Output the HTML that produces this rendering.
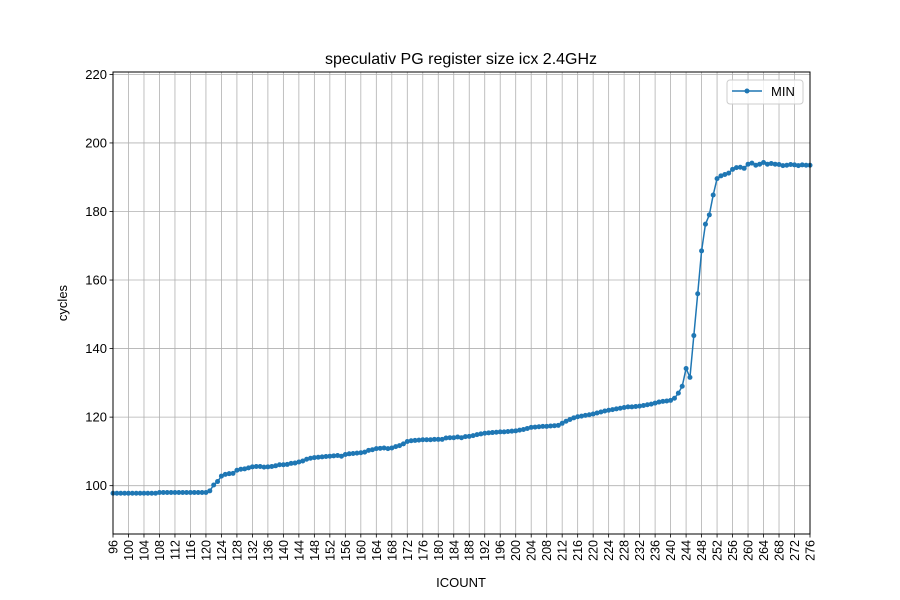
<!DOCTYPE html>
<html><head><meta charset="utf-8"><style>
html,body{margin:0;padding:0;background:#fff;}
svg{display:block;font-family:"Liberation Sans","DejaVu Sans",sans-serif;}
</style></head><body>
<svg id="chart" width="900" height="600" xmlns="http://www.w3.org/2000/svg">
<rect width="900" height="600" fill="#fff"/>
<g id="grid"></g>
<g id="series"></g>
<rect x="113" y="72" width="697" height="462" fill="none" stroke="#000" stroke-width="1"/>
<g id="xticks"></g>
<g id="yticks"></g>
<text x="461" y="64" text-anchor="middle" font-size="16">speculativ PG register size icx 2.4GHz</text>
<text x="461" y="587" text-anchor="middle" font-size="13">ICOUNT</text>
<text transform="translate(67,303) rotate(-90)" text-anchor="middle" font-size="13">cycles</text>
<g>
<rect x="727" y="80" width="76" height="24" rx="3" fill="#fff" fill-opacity="0.8" stroke="#ccc"/>
<line x1="732" y1="91" x2="762" y2="91" stroke="#1f77b4" stroke-width="1.5"/>
<circle cx="747" cy="91" r="2.5" fill="#1f77b4"/>
<text x="771" y="96" font-size="13">MIN</text>
</g>
</svg>
<script>
const xStart = 96;
const minValues = [97.8,97.8,97.8,97.8,97.8,97.8,97.8,97.8,97.8,97.8,97.8,97.8,98.0,98.0,98.0,98.0,98.0,98.0,98.0,98.0,98.0,98.0,98.0,98.0,98.0,
98.5,100.2,101.2,102.8,103.3,103.5,103.6,104.5,104.8,104.9,105.2,105.5,105.6,105.6,105.4,105.5,105.6,105.8,106.1,106.1,106.2,106.5,106.6,106.9,107.2,
107.7,108.0,108.2,108.3,108.4,108.5,108.6,108.7,108.8,108.6,109.1,109.3,109.4,109.5,109.6,109.8,110.3,110.5,110.8,110.9,111.0,110.8,111.0,111.4,111.7,
112.2,112.9,113.1,113.2,113.3,113.4,113.4,113.4,113.5,113.5,113.5,113.9,114.0,114.0,114.2,114.0,114.3,114.4,114.6,114.9,115.1,115.3,115.4,115.5,115.6,
115.7,115.7,115.8,115.9,116.0,116.2,116.4,116.7,117.0,117.1,117.2,117.3,117.3,117.4,117.5,117.6,118.2,118.8,119.3,119.8,120.1,120.3,120.5,120.7,120.9,
121.2,121.5,121.8,122.0,122.2,122.4,122.6,122.8,123.0,123.0,123.1,123.2,123.4,123.6,123.8,124.1,124.4,124.6,124.7,124.9,125.5,127.0,129.0,134.2,131.6,
143.8,156.0,168.5,176.3,179.0,184.8,189.6,190.4,190.8,191.2,192.3,192.8,192.9,192.6,193.8,194.1,193.5,193.8,194.3,193.8,194.0,193.8,193.7,193.4,193.5,
193.7,193.6,193.4,193.6,193.5,193.5];
const xTickLabels = [];
for (let v = 96; v <= 276; v += 4) xTickLabels.push(v);
const yTickLabels = [100,120,140,160,180,200,220];

const NS = "http://www.w3.org/2000/svg";
const X0=113, X1=810, Y0=534, Y1=72;
const xMin=96, xMax=276, yMin=85.9, yMax=220.7;
const sx = v => X0 + (v - xMin) * (X1 - X0) / (xMax - xMin);
const sy = v => Y0 - (v - yMin) * (Y0 - Y1) / (yMax - yMin);
function mk(tag, attrs, parent){ const e=document.createElementNS(NS,tag); for(const k in attrs) e.setAttribute(k,attrs[k]); parent.appendChild(e); return e; }

const grid=document.getElementById('grid'), xt=document.getElementById('xticks'), yt=document.getElementById('yticks');
xTickLabels.forEach(v=>{
  const x=sx(v);
  const g=mk('line',{x1:x,x2:x,y1:Y1,y2:Y0,stroke:'#b0b0b0','stroke-width':0.8},grid);
  
  
  mk('line',{x1:x,x2:x,y1:Y0,y2:Y0+3.5,stroke:'#000','stroke-width':0.8},xt);
  const t=mk('text',{transform:`translate(${x+4.5},${Y0+6}) rotate(-90)`,'text-anchor':'end','font-size':12.5},xt);
  t.textContent=v;
  
  
});
yTickLabels.forEach(v=>{
  const y=sy(v);
  const g=mk('line',{x1:X0,x2:X1,y1:y,y2:y,stroke:'#b0b0b0','stroke-width':0.8},grid);
  
  
  mk('line',{x1:X0-3.5,x2:X0,y1:y,y2:y,stroke:'#000','stroke-width':0.8},yt);
  const t=mk('text',{x:X0-6,y:y+4.5,'text-anchor':'end','font-size':13},yt);
  t.textContent=v;
  
  
});
const ser=document.getElementById('series');
const pts=minValues.map((v,i)=>sx(xStart+i).toFixed(2)+','+sy(v).toFixed(2)).join(' ');
const pl=mk('polyline',{points:pts,fill:'none',stroke:'#1f77b4','stroke-width':1.5,'stroke-linejoin':'round'},ser);


minValues.forEach((v,i)=>{
  const c=mk('circle',{cx:sx(xStart+i),cy:sy(v),r:2.5,fill:'#1f77b4'},ser);
  
  
});
</script>
</body></html>
